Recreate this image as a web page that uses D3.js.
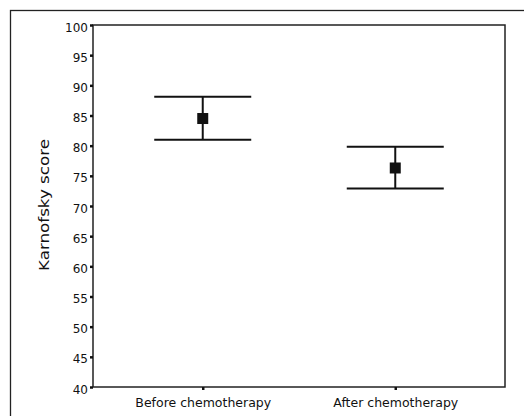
<!DOCTYPE html>
<html><head><meta charset="utf-8">
<script src="https://cdn.jsdelivr.net/npm/d3@7"></script>
<style>body{margin:0;background:#fff}svg{display:block}text{font-family:"DejaVu Sans",sans-serif;fill:#111}</style>
</head><body>
<svg id="c" width="524" height="416"></svg>
<script>
const categories = ["Before chemotherapy", "After chemotherapy"];
const means = [84.5, 76.3];
const upper = [88.1, 79.8];
const lower = [81.0, 72.9];
const yTicks = [40,45,50,55,60,65,70,75,80,85,90,95,100];

const svg = d3.select("#c");
const L = 93, R = 505, T = 25, B = 387;
const x = d3.scalePoint().domain(categories).range([L, R]).padding(0.57);
const y = d3.scaleLinear().domain([40, 100]).range([B, T]);

// outer frame
svg.append("rect").attr("x",10.5).attr("y",10.5).attr("width",530).attr("height",420)
  .attr("fill","none").attr("stroke","#222").attr("stroke-width",1.3);

// plot box
svg.append("rect").attr("x",L).attr("y",T).attr("width",R-L).attr("height",B-T)
  .attr("fill","none").attr("stroke","#222").attr("stroke-width",1.5);

const ya = svg.append("g").attr("transform",`translate(${L},0)`)
  .call(d3.axisLeft(y).tickValues(yTicks).tickSize(3).tickPadding(2));
ya.select(".domain").remove();
ya.selectAll("line").attr("stroke","#111").attr("stroke-width",2.5);
ya.selectAll("text").style("font-size","12px").attr("fill","#111").attr("dy","0.5em");

const xa = svg.append("g").attr("transform",`translate(0,${B})`)
  .call(d3.axisBottom(x).tickSize(3).tickPadding(8));
xa.select(".domain").remove();
xa.selectAll("line").attr("stroke","#111").attr("stroke-width",2.5);
xa.selectAll("text").style("font-size","12.5px").attr("fill","#111");

svg.append("text").attr("transform",`translate(49,${205}) rotate(-90)`)
  .attr("text-anchor","middle").style("font-size","14.5px")
  .attr("textLength",132).attr("lengthAdjust","spacingAndGlyphs").text("Karnofsky score");

const capHalf = 48.5;
const g = svg.append("g");
categories.forEach((c,i)=>{
  const cx = x(c);
  g.append("line").attr("x1",cx).attr("x2",cx).attr("y1",y(upper[i])).attr("y2",y(lower[i]))
    .attr("stroke","#111").attr("stroke-width",2);
  [upper[i], lower[i]].forEach(v=>{
    g.append("line").attr("x1",cx-capHalf).attr("x2",cx+capHalf).attr("y1",y(v)).attr("y2",y(v))
      .attr("stroke","#111").attr("stroke-width",2);
  });
  g.append("rect").attr("x",cx-5.5).attr("y",y(means[i])-5.5).attr("width",11).attr("height",11)
    .attr("fill","#111");
});
</script>
</body></html>
